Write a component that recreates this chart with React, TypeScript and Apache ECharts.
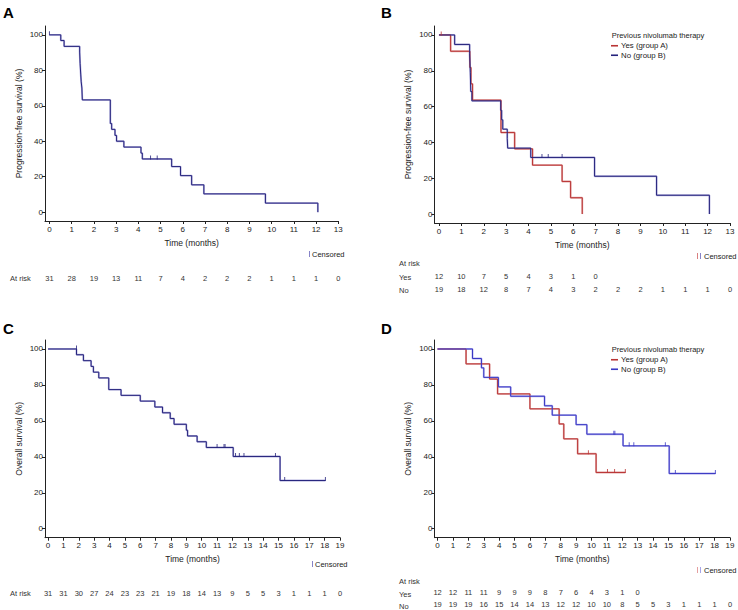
import React, { useEffect, useRef } from "react";
import * as echarts from "echarts";

// ---------- tick labels ----------
const xTicksPFS = [0, 1, 2, 3, 4, 5, 6, 7, 8, 9, 10, 11, 12, 13];
const xTicksOS = [0, 1, 2, 3, 4, 5, 6, 7, 8, 9, 10, 11, 12, 13, 14, 15, 16, 17, 18, 19];
const yTicks = [0, 20, 40, 60, 80, 100];

// ---------- A: PFS, all patients ----------
const pfsAllTimes = [0, 0.51, 0.66, 1.36, 1.38, 1.41, 1.43, 1.46, 1.48, 2.74, 2.8, 2.95, 3.02, 3.35, 4.12, 4.18, 5.5, 5.9, 6.4, 6.95, 9.72, 12.08];
const pfsAllSurv = [100, 96.8, 93.5, 90.3, 83.9, 77.4, 73.5, 70.0, 63.3, 50.0, 46.7, 43.3, 40.0, 36.7, 33.3, 30.0, 25.7, 20.6, 15.4, 10.3, 5.1, 0];
const pfsAllCensor = [[0, 100], [4.55, 30.0], [4.85, 30.0]];

// ---------- B: PFS by group ----------
const pfsYesTimes = [0, 0.52, 1.38, 1.43, 1.5, 2.77, 3.38, 4.18, 5.5, 5.88, 6.4];
const pfsYesSurv = [100, 90.9, 81.8, 72.7, 63.6, 45.5, 36.4, 27.3, 18.2, 9.1, 0];
const pfsYesCensor = [[0.1, 100]];
const pfsNoTimes = [0, 0.7, 1.37, 1.4, 1.42, 1.47, 2.76, 2.8, 2.85, 3.05, 3.07, 4.1, 6.95, 9.72, 12.08];
const pfsNoSurv = [100, 94.7, 89.5, 78.9, 68.4, 63.2, 57.9, 52.6, 47.4, 42.1, 36.8, 31.6, 21.1, 10.5, 0];
const pfsNoCensor = [[4.6, 31.6], [4.88, 31.6], [5.5, 31.6]];

// ---------- C: OS, all patients ----------
const osAllTimes = [0, 1.85, 2.3, 2.8, 2.95, 3.3, 3.95, 4.75, 6.0, 6.95, 7.45, 7.95, 8.2, 9.0, 9.08, 9.7, 10.3, 12.05, 15.1, 18.05];
const osAllSurv = [100, 96.8, 93.5, 90.3, 87.1, 83.9, 77.4, 74.2, 71.0, 67.7, 64.5, 61.3, 58.1, 54.8, 51.6, 48.4, 45.2, 40.2, 26.8, 26.8];
const osAllCensor = [[1.85, 100], [11.0, 45.2], [11.45, 45.2], [11.52, 45.2], [12.2, 40.2], [12.45, 40.2], [12.75, 40.2], [14.8, 40.2], [15.4, 26.8], [18.05, 26.8]];

// ---------- D: OS by group ----------
const osYesTimes = [0, 1.85, 3.38, 3.9, 6.0, 7.9, 8.2, 9.1, 10.3, 12.2];
const osYesSurv = [100, 91.7, 83.3, 75.0, 66.7, 58.3, 50.0, 41.7, 31.3, 31.3];
const osYesCensor = [[9.8, 41.7], [11.04, 31.3], [11.5, 31.3], [12.2, 31.3]];
const osNoTimes = [0, 2.27, 2.85, 3.0, 3.95, 4.75, 6.95, 7.45, 9.0, 9.7, 12.05, 15.05, 18.05];
const osNoSurv = [100, 94.7, 89.5, 84.2, 78.9, 73.7, 68.4, 63.2, 57.9, 52.6, 46.1, 30.7, 30.7];
const osNoCensor = [[11.45, 52.6], [11.52, 52.6], [12.45, 46.1], [12.75, 46.1], [14.8, 46.1], [15.45, 30.7], [18.05, 30.7]];

// ---------- numbers at risk ----------
const riskPfsAll = [31, 28, 19, 13, 11, 7, 4, 2, 2, 2, 1, 1, 1, 0];
const riskPfsYes = [12, 10, 7, 5, 4, 3, 1, 0];
const riskPfsNo = [19, 18, 12, 8, 7, 4, 3, 2, 2, 2, 1, 1, 1, 0];
const riskOsAll = [31, 31, 30, 27, 24, 23, 23, 21, 19, 18, 14, 13, 9, 5, 5, 3, 1, 1, 1, 0];
const riskOsYes = [12, 12, 11, 11, 9, 9, 9, 8, 7, 6, 4, 3, 1, 0];
const riskOsNo = [19, 19, 19, 16, 15, 14, 14, 13, 12, 12, 10, 10, 8, 5, 5, 3, 1, 1, 1, 0];

const FONT = "'Liberation Sans', Arial, sans-serif";
const AXIS = "#222";
const NAVY = "#25237c";
const NAVY_HALO = "#b4b1de";
const RED = "#b93434";
const RED_HALO = "#e2a6a6";
const BLUE = "#3a38c4";
const BLUE_HALO = "#b0aeec";

function mainX(ticks: number[], max: number, gi: number) {
  return {
    type: "value",
    gridIndex: gi,
    min: -0.2,
    max,
    name: "Time (months)",
    nameLocation: "middle",
    nameGap: 17,
    nameTextStyle: { fontSize: 8.5, color: AXIS, fontFamily: FONT },
    axisLine: { show: true, onZero: false, lineStyle: { color: AXIS, width: 1 } },
    axisTick: { show: true, length: 3, customValues: ticks, lineStyle: { color: AXIS } },
    axisLabel: { customValues: ticks, fontSize: 8, color: AXIS, margin: 4, fontFamily: FONT },
    splitLine: { show: false },
  };
}
function mainY(name: string, gi: number) {
  return {
    type: "value",
    gridIndex: gi,
    min: -5,
    max: 105,
    name,
    nameLocation: "middle",
    nameGap: 22,
    nameTextStyle: { fontSize: 8.5, color: AXIS, fontFamily: FONT },
    axisLine: { show: true, onZero: false, lineStyle: { color: AXIS, width: 1 } },
    axisTick: { show: true, length: 3, customValues: yTicks, lineStyle: { color: AXIS } },
    axisLabel: { customValues: yTicks, fontSize: 8, color: AXIS, margin: 2, fontFamily: FONT },
    splitLine: { show: false },
  };
}
function riskX(max: number, gi: number) {
  return { type: "value", gridIndex: gi, min: -0.2, max, show: false };
}
function riskY(gi: number) {
  return { type: "value", gridIndex: gi, min: 0, max: 2, show: false };
}

function km(name: string, times: number[], surv: number[], color: string, halo: string, ai: number) {
  const data = times.map((t, i) => [t, surv[i]]);
  return [
    {
      type: "line", name: name + "#halo", xAxisIndex: ai, yAxisIndex: ai, step: "end", symbol: "none",
      data, color: halo, lineStyle: { color: halo, width: 1.9 }, silent: true, z: 2,
    },
    {
      type: "line", name, xAxisIndex: ai, yAxisIndex: ai, step: "end", symbol: "none",
      data, color, lineStyle: { color, width: 1 }, silent: true, z: 3,
    },
  ];
}
function censor(name: string, pts: number[][], color: string, ai: number) {
  return {
    type: "scatter", name: name + "#cens", xAxisIndex: ai, yAxisIndex: ai, data: pts,
    symbol: "rect", symbolSize: [1, 4], symbolOffset: [0, -1.5], itemStyle: { color }, silent: true, z: 4,
  };
}
function risk(values: number[], row: number, ai: number) {
  return {
    type: "scatter", xAxisIndex: ai, yAxisIndex: ai, silent: true,
    data: values.map((v, i) => [i, row, v]),
    symbolSize: 1, color: "#333", itemStyle: { color: "#333", opacity: 0 },
    label: {
      show: true, position: [0.5, 0.5], align: "center", verticalAlign: "middle",
      formatter: (p: any) => String(p.value[2]),
      fontSize: 7.5, color: "#333", fontFamily: FONT, opacity: 1,
    },
  };
}

function txt(text: string, x: number, y: number, size = 7.5, color = "#333", weight = "normal") {
  return {
    type: "text", x, y, silent: true,
    style: { text, fill: color, font: `${weight} ${size}px ${FONT}`, textAlign: "left", textVerticalAlign: "middle" },
  };
}
function tick(x: number, y: number, color: string) {
  return { type: "rect", shape: { x, y: y - 3, width: 1, height: 6 }, style: { fill: color }, silent: true };
}

export default function App() {
  const ref = useRef<HTMLDivElement>(null);
  useEffect(() => {
    if (!ref.current) return;
    const chart = echarts.init(ref.current, null, { renderer: "svg" });
    const option = {
      animation: false,
      textStyle: { fontFamily: FONT },
      grid: [
        { left: 45, top: 26, width: 293.3, height: 195 },
        { left: 434.5, top: 26, width: 295.5, height: 197 },
        { left: 45, top: 340, width: 295, height: 197.7 },
        { left: 434.5, top: 340, width: 295.5, height: 197.7 },
        { left: 45, top: 270, width: 293.3, height: 16 },
        { left: 434.5, top: 270, width: 295.5, height: 26 },
        { left: 45, top: 585, width: 295, height: 16 },
        { left: 434.5, top: 587, width: 295.5, height: 26 },
      ],
      xAxis: [
        mainX(xTicksPFS, 13, 0), mainX(xTicksPFS, 13, 1), mainX(xTicksOS, 19, 2), mainX(xTicksOS, 19, 3),
        riskX(13, 4), riskX(13, 5), riskX(19, 6), riskX(19, 7),
      ],
      yAxis: [
        mainY("Progression-free survival (%)", 0), mainY("Progression-free survival (%)", 1),
        mainY("Overall survival (%)", 2), mainY("Overall survival (%)", 3),
        riskY(4), riskY(5), riskY(6), riskY(7),
      ],
      legend: [
        {
          data: ["Yes (group A)", "No (group B)"], orient: "vertical", left: 611, top: 41, padding: 0,
          icon: "rect", itemWidth: 7, itemHeight: 1.6, itemGap: 0, selectedMode: false,
          textStyle: { fontSize: 7.8, color: "#222", fontFamily: FONT, lineHeight: 9.5, padding: [0, 0, 0, -2] },
        },
        {
          data: ["Yes (group A)#D", "No (group B)#D"], orient: "vertical", left: 611, top: 355, padding: 0,
          icon: "rect", itemWidth: 7, itemHeight: 1.6, itemGap: 0, selectedMode: false,
          formatter: (n: string) => n.replace("#D", ""),
          textStyle: { fontSize: 7.8, color: "#222", fontFamily: FONT, lineHeight: 9.5, padding: [0, 0, 0, -2] },
        },
      ],
      series: [
        ...km("All PFS", pfsAllTimes, pfsAllSurv, NAVY, NAVY_HALO, 0),
        censor("All PFS", pfsAllCensor, NAVY, 0),
        ...km("Yes (group A)", pfsYesTimes, pfsYesSurv, RED, RED_HALO, 1),
        ...km("No (group B)", pfsNoTimes, pfsNoSurv, NAVY, NAVY_HALO, 1),
        censor("Yes B", pfsYesCensor, RED, 1),
        censor("No B", pfsNoCensor, NAVY, 1),
        ...km("All OS", osAllTimes, osAllSurv, NAVY, NAVY_HALO, 2),
        censor("All OS", osAllCensor, NAVY, 2),
        ...km("Yes (group A)#D", osYesTimes, osYesSurv, RED, RED_HALO, 3),
        ...km("No (group B)#D", osNoTimes, osNoSurv, BLUE, BLUE_HALO, 3),
        censor("Yes D", osYesCensor, RED, 3),
        censor("No D", osNoCensor, BLUE, 3),
        risk(riskPfsAll, 1, 4),
        risk(riskPfsYes, 1.5, 5),
        risk(riskPfsNo, 0.5, 5),
        risk(riskOsAll, 1, 6),
        risk(riskOsYes, 1.5, 7),
        risk(riskOsNo, 0.5, 7),
      ],
      graphic: [
        txt("A", 3, 12, 15, "#000", "bold"),
        txt("B", 381, 12, 15, "#000", "bold"),
        txt("C", 3, 328, 15, "#000", "bold"),
        txt("D", 381, 328, 15, "#000", "bold"),
        txt("Previous nivolumab therapy", 611.7, 35, 7.5, "#222"),
        txt("Previous nivolumab therapy", 611.7, 349, 7.5, "#222"),
        txt("At risk", 10, 278),
        txt("At risk", 399, 263),
        txt("Yes", 399, 277),
        txt("No", 399, 290),
        txt("At risk", 10, 593),
        txt("At risk", 399, 581),
        txt("Yes", 399, 594),
        txt("No", 399, 606),
        tick(309, 254, "#8683c8"),
        txt("Censored", 312, 254, 7.5, "#222"),
        tick(697, 256, "#d98080"),
        tick(700, 256, "#8683c8"),
        txt("Censored", 704, 256, 7.5, "#222"),
        tick(312, 564, "#8683c8"),
        txt("Censored", 315, 564, 7.5, "#222"),
        tick(697, 570, "#e5a0a0"),
        tick(700, 570, "#a6a4e8"),
        txt("Censored", 704, 570, 7.5, "#222"),
      ],
    };
    chart.setOption(option as any);
    return () => chart.dispose();
  }, []);
  return (
    <div
      ref={ref}
      style={{ position: "absolute", left: 0, top: 0, width: 738, height: 610, background: "#fff" }}
    />
  );
}
